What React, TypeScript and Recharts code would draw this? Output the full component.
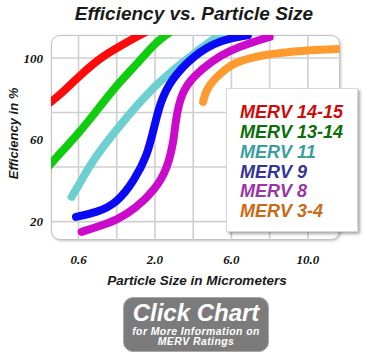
import React from 'react';
import { LineChart, Line, XAxis, YAxis, CartesianGrid } from 'recharts';

// x positions are equal-spaced slots on the (non-linear) particle size axis
const xTickPositions = [1, 3, 5, 7];
const xTickLabels = ['0.6', '2.0', '6.0', '10.0'];
const xGridPositions = [1, 2, 3, 4, 5, 6, 7];
const yTicks = [20, 60, 100];
const yGridValues = [20, 46.67, 73.33, 100];
const xDomain = [0.28, 7.84];
const yDomain = [11, 111.25];

const merv1415 = [
  { x: 0.2, y: 77.5 }, { x: 0.52, y: 82 }, { x: 0.99, y: 90.7 }, { x: 1.56, y: 100 },
  { x: 2.0, y: 104.9 }, { x: 2.6, y: 111.25 }, { x: 2.9, y: 114 },
];
const merv1314 = [
  { x: 0.2, y: 46.6 }, { x: 0.52, y: 53.5 }, { x: 0.99, y: 62.8 }, { x: 1.56, y: 76.2 },
  { x: 2.0, y: 86.8 }, { x: 2.6, y: 98.5 }, { x: 3.02, y: 107.8 }, { x: 3.5, y: 114 },
];
const merv11 = [
  { x: 0.82, y: 32.1 }, { x: 0.995, y: 37.5 }, { x: 1.39, y: 50.5 }, { x: 2.0, y: 65.3 },
  { x: 3.02, y: 87.6 }, { x: 4.02, y: 102.3 }, { x: 4.61, y: 110.4 }, { x: 4.95, y: 114 },
];
const merv9 = [
  { x: 0.935, y: 22.3 }, { x: 1.48, y: 24.5 }, { x: 2.0, y: 28.9 }, { x: 2.47, y: 40.5 },
  { x: 2.8, y: 52.5 }, { x: 2.97, y: 65.5 }, { x: 3.14, y: 78.5 }, { x: 3.42, y: 89.5 },
  { x: 4.02, y: 101.5 }, { x: 4.69, y: 108.8 }, { x: 5.43, y: 111.1 },
];
const merv8 = [
  { x: 1.08, y: 15 }, { x: 1.56, y: 17.8 }, { x: 2.0, y: 20.7 }, { x: 2.5, y: 26.5 },
  { x: 3.0, y: 35.6 }, { x: 3.33, y: 46 }, { x: 3.5, y: 60.5 }, { x: 3.53, y: 68.5 },
  { x: 3.68, y: 82.7 }, { x: 4.0, y: 91 }, { x: 4.52, y: 99 }, { x: 4.96, y: 103.6 },
  { x: 5.48, y: 107.3 }, { x: 6.0, y: 110.3 },
];
const merv34 = [
  { x: 4.26, y: 78.6 }, { x: 4.33, y: 84 }, { x: 4.52, y: 89.2 }, { x: 4.87, y: 95 },
  { x: 5.09, y: 97.6 }, { x: 5.48, y: 100 }, { x: 6.0, y: 102 }, { x: 6.52, y: 102.9 },
  { x: 7.04, y: 103.9 }, { x: 7.77, y: 104.4 },
];

const seriesNames = ['MERV 14-15', 'MERV 13-14', 'MERV 11', 'MERV 9', 'MERV 8', 'MERV 3-4'];
const seriesData = [merv1415, merv1314, merv11, merv9, merv8, merv34];
const lineColors = ['#ff0a0a', '#0fcc0f', '#6cd0d0', '#0a0af5', '#cc0acc', '#ff9a2e'];
const textColors = ['#d00a0a', '#0a6e0a', '#3a9ea0', '#33339a', '#9a35a8', '#cc6a12'];

const SANS = '"Liberation Sans", Arial, sans-serif';
const SERIF = '"Liberation Serif", "Times New Roman", serif';

const XTick = (props: any) => {
  const idx = xTickPositions.indexOf(props.payload.value);
  return (
    <text x={props.x} y={props.y + 16} textAnchor="middle" fontFamily={SERIF}
      fontWeight="bold" fontStyle="italic" fontSize={13} fill="#111">
      {idx >= 0 ? xTickLabels[idx] : ''}
    </text>
  );
};

const YTick = (props: any) => (
  <text x={props.x} y={props.y + 4.5} textAnchor="end" fontFamily={SERIF}
    fontWeight="bold" fontStyle="italic" fontSize={13} fill="#111">
    {props.payload.value}
  </text>
);

const textBase: React.CSSProperties = {
  position: 'absolute',
  fontFamily: SANS,
  fontWeight: 'bold',
  fontStyle: 'italic',
  whiteSpace: 'nowrap',
};

export default function App() {
  return (
    <div style={{ position: 'absolute', left: 0, top: 0, width: 370, height: 359, background: '#fff', overflow: 'hidden' }}>
      <div style={{
        position: 'absolute', left: 51, top: 35, width: 289, height: 205, boxSizing: 'border-box',
        border: '1.5px solid #c2c2c2', borderRadius: 9, background: '#fff',
        boxShadow: '1px 1px 3px rgba(0,0,0,0.25)',
      }} />
      <div style={{ position: 'absolute', left: 0, top: 0 }}>
        <LineChart width={370} height={359} margin={{ top: 35, right: 30, left: 0, bottom: 0 }}>
          <CartesianGrid verticalValues={xGridPositions} horizontalValues={yGridValues}
            stroke="#cfcfcf" strokeWidth={1.6} />
          <XAxis dataKey="x" type="number" domain={xDomain} ticks={xTickPositions}
            allowDataOverflow height={119} axisLine={false} tickLine={false} tick={<XTick />} interval={0} />
          <YAxis type="number" domain={yDomain} ticks={yTicks} allowDataOverflow width={51}
            axisLine={false} tickLine={false} tick={<YTick />} interval={0} />
          {seriesData.map((d, i) => (
            <Line key={seriesNames[i]} data={d} dataKey="y" type="basis" stroke={lineColors[i]}
              strokeWidth={8} strokeLinecap="round" dot={false} activeDot={false}
              isAnimationActive={false} />
          ))}
        </LineChart>
      </div>
      <div style={{
        position: 'absolute', left: 226, top: 88, width: 132, height: 144, boxSizing: 'border-box',
        background: '#fff', border: '1px solid #d8d8d8', boxShadow: '2px 2px 3px rgba(0,0,0,0.35)',
        paddingTop: 14.3, paddingLeft: 13,
      }}>
        {seriesNames.map((n, i) => (
          <div key={n} style={{
            fontFamily: SANS, fontWeight: 'bold', fontStyle: 'italic', fontSize: 18,
            lineHeight: '19.8px', color: textColors[i], whiteSpace: 'nowrap',
          }}>{n}</div>
        ))}
      </div>
      <div style={{ ...textBase, left: 44, top: 4, width: 300, textAlign: 'center', fontSize: 19, lineHeight: '19px', color: '#1a1a1a' }}>
        Efficiency vs. Particle Size
      </div>
      <div style={{ ...textBase, left: -62, top: 126.5, width: 150, height: 13, textAlign: 'center', fontSize: 13, lineHeight: '13px', color: '#1a1a1a', transform: 'rotate(-90deg)' }}>
        Efficiency in %
      </div>
      <div style={{ ...textBase, left: 47, top: 274.4, width: 300, textAlign: 'center', fontSize: 13.5, lineHeight: '13.5px', color: '#1a1a1a' }}>
        Particle Size in Micrometers
      </div>
      <div style={{
        position: 'absolute', left: 123, top: 297, width: 146, height: 55, boxSizing: 'border-box',
        background: '#7b7b7b', border: '1.5px solid #a8a8a8', borderRadius: 10,
      }}>
        <div style={{ ...textBase, left: 0, top: 3, width: '100%', textAlign: 'center', fontSize: 24, lineHeight: '24px', color: '#fff' }}>
          Click Chart
        </div>
        <div style={{ ...textBase, left: 0, top: 27.5, width: '100%', textAlign: 'center', fontSize: 10.5, lineHeight: '10.5px', letterSpacing: 0.4, color: '#fff' }}>
          for More Information on
        </div>
        <div style={{ ...textBase, left: 0, top: 38, width: '100%', textAlign: 'center', fontSize: 10.5, lineHeight: '10.5px', letterSpacing: 0.4, color: '#fff' }}>
          MERV Ratings
        </div>
      </div>
    </div>
  );
}
